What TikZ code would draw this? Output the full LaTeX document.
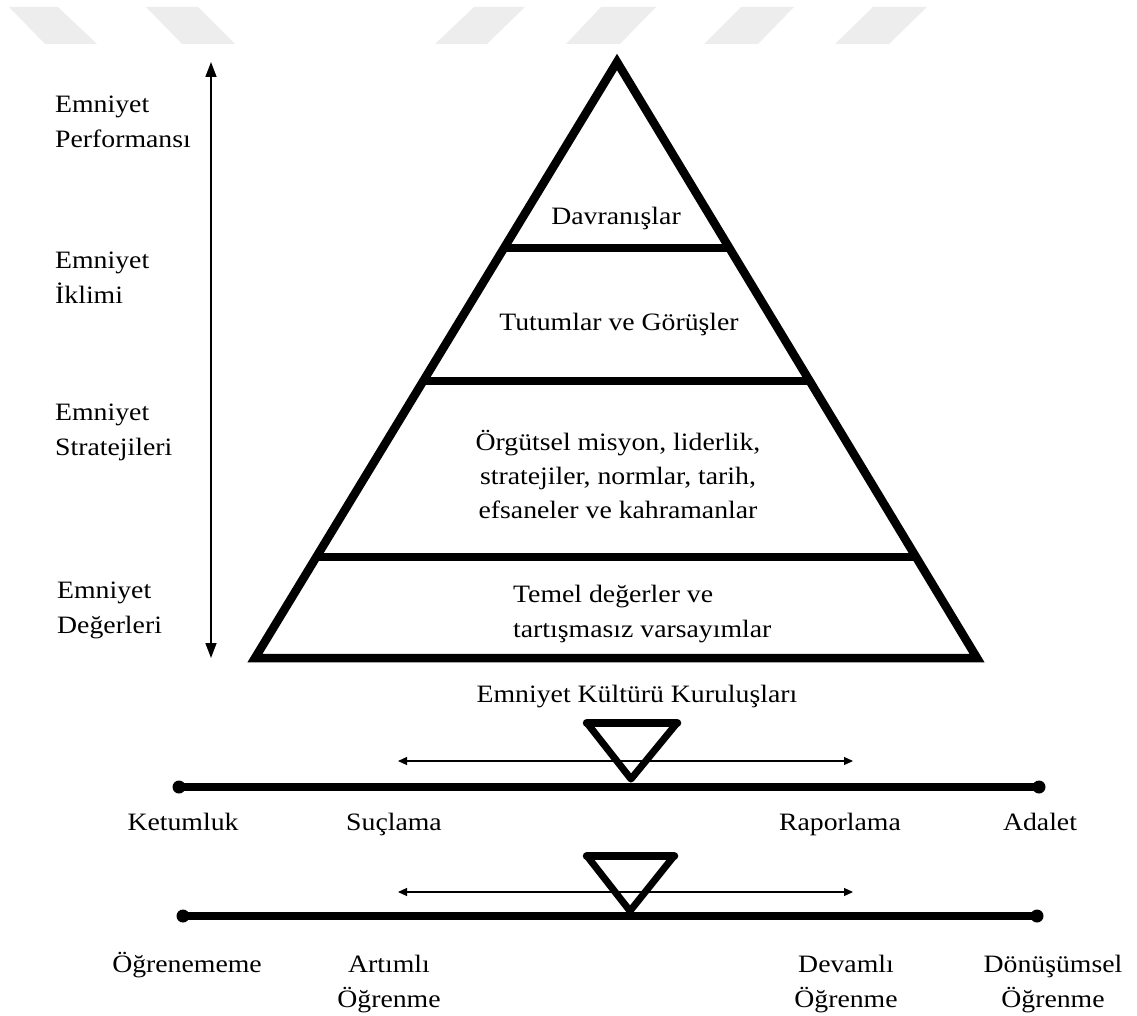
\documentclass[tikz,border=0pt]{standalone}
\usepackage{fontspec}
\setmainfont{Liberation Serif}[FakeStretch=1.11]
\usetikzlibrary{arrows.meta,calc}
\begin{document}
\begin{tikzpicture}[x=1pt,y=-1pt,
  wm/.style={fill=black!7,draw=none},
  pyr/.style={line width=8.5pt,line join=miter},
  pyrline/.style={line width=8.5pt},
  lbl/.style={inner sep=0pt,font=\fontsize{25}{35}\selectfont},
  vaxis/.style={line width=1.5pt,{Triangle[length=15pt,width=11pt]}-{Triangle[length=15pt,width=11pt]}},
  thinarrow/.style={line width=1.2pt,{Triangle[length=9pt,width=8pt]}-{Triangle[length=9pt,width=8pt]}},
  scaleline/.style={line width=8pt},
  enddot/.style={fill=black},
  tri/.style={line width=7pt,line join=round},
  tribar/.style={line width=8.5pt,line cap=round}
]
\useasboundingbox (0,0) rectangle (1137,1016);
% watermark shapes
\fill[wm] (9,7) -- (58,7) -- (97,44) -- (45,44) -- cycle;
\fill[wm] (146,7) -- (198,7) -- (235,44) -- (182,44) -- cycle;
\fill[wm] (474,7) -- (525,7) -- (487,44) -- (435,44) -- cycle;
\fill[wm] (601,7) -- (656,7) -- (620,44) -- (566,44) -- cycle;
\fill[wm] (741,7) -- (794,7) -- (758,44) -- (704,44) -- cycle;
\fill[wm] (873,7) -- (927,7) -- (889,44) -- (835,44) -- cycle;

% vertical axis
\coordinate (vtop) at (211,62);
\coordinate (vbot) at (211,658);
\draw[vaxis] (vbot) -- (vtop);

% left labels
\node[lbl,anchor=base west] (perf) at (55,113) {\begin{tabular}[t]{@{}l@{}}Emniyet\\Performansı\end{tabular}};
\node[lbl,anchor=base west] (iklim) at (55,269) {\begin{tabular}[t]{@{}l@{}}Emniyet\\İklimi\end{tabular}};
\node[lbl,anchor=base west] (strat) at (55,420) {\begin{tabular}[t]{@{}l@{}}Emniyet\\Stratejileri\end{tabular}};
\node[lbl,anchor=base west] (deger) at (57,598) {\begin{tabular}[t]{@{}l@{}}Emniyet\\Değerleri\end{tabular}};

% pyramid
\coordinate (apex) at (617,62);
\coordinate (bl) at (255,658);
\coordinate (br) at (977,658);
\draw[pyr] (apex) -- (bl) -- (br) -- cycle;
\coordinate (d1l) at ($(apex)!0.312!(bl)$);
\coordinate (d1r) at ($(apex)!0.312!(br)$);
\coordinate (d2l) at ($(apex)!0.535!(bl)$);
\coordinate (d2r) at ($(apex)!0.535!(br)$);
\coordinate (d3l) at ($(apex)!0.8305!(bl)$);
\coordinate (d3r) at ($(apex)!0.8305!(br)$);
\draw[pyrline] (d1l) -- (d1r);
\draw[pyrline] (d2l) -- (d2r);
\draw[pyrline] (d3l) -- (d3r);

\node[lbl,anchor=base] (davr) at (616,225) {Davranışlar};
\node[lbl,anchor=base] (tutum) at (619,330) {Tutumlar ve Görüşler};
\node[lbl,anchor=base,font=\fontsize{25}{34}\selectfont] (orgut) at (618,450) {\begin{tabular}[t]{@{}c@{}}Örgütsel misyon, liderlik,\\stratejiler, normlar, tarih,\\efsaneler ve kahramanlar\end{tabular}};
\node[lbl,anchor=base west] (temel) at (513,602) {\begin{tabular}[t]{@{}l@{}}Temel değerler ve\\tartışmasız varsayımlar\end{tabular}};

\node[lbl,anchor=base] (kurulus) at (637,702) {Emniyet Kültürü Kuruluşları};

% scale 1
\coordinate (k1) at (179,787);
\coordinate (a1) at (1039,787);
\draw[scaleline] (k1) -- (a1);
\fill[enddot] (k1) circle (6.5);
\fill[enddot] (a1) circle (6.5);
\coordinate (s1) at (398,761);
\coordinate (r1) at (853,761);
\draw[thinarrow] (s1) -- (r1);
\coordinate (t1l) at (587,723);
\coordinate (t1r) at (677,723);
\coordinate (t1a) at (631,779);
\draw[tri] (t1l) -- (t1r) -- (t1a) -- cycle;
\draw[tribar] (t1l) -- (t1r);

\node[lbl,anchor=base] (ketum) at (183,830) {Ketumluk};
\node[lbl,anchor=base] (sucl) at (394,830) {Suçlama};
\node[lbl,anchor=base] (rapor) at (840,830) {Raporlama};
\node[lbl,anchor=base] (adalet) at (1040,830) {Adalet};

% scale 2
\coordinate (k2) at (183,916);
\coordinate (a2) at (1037,916);
\draw[scaleline] (k2) -- (a2);
\fill[enddot] (k2) circle (6.5);
\fill[enddot] (a2) circle (6.5);
\coordinate (s2) at (398,892);
\coordinate (r2) at (853,892);
\draw[thinarrow] (s2) -- (r2);
\coordinate (t2l) at (587,856);
\coordinate (t2r) at (674,856);
\coordinate (t2a) at (630,911);
\draw[tri] (t2l) -- (t2r) -- (t2a) -- cycle;
\draw[tribar] (t2l) -- (t2r);

\node[lbl,anchor=base] (ogren0) at (187,972) {Öğrenememe};
\node[lbl,anchor=base] (artim) at (389,972) {\begin{tabular}[t]{@{}c@{}}Artımlı\\Öğrenme\end{tabular}};
\node[lbl,anchor=base] (devam) at (846,972) {\begin{tabular}[t]{@{}c@{}}Devamlı\\Öğrenme\end{tabular}};
\node[lbl,anchor=base] (donus) at (1053,972) {\begin{tabular}[t]{@{}c@{}}Dönüşümsel\\Öğrenme\end{tabular}};
\end{tikzpicture}
\end{document}
